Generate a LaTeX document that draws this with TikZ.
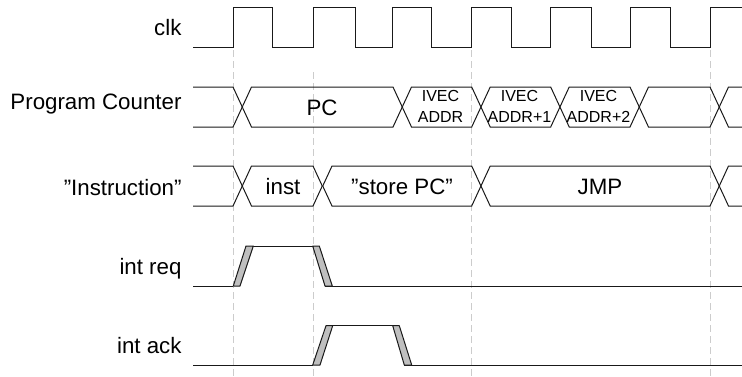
\documentclass[tikz,border=0pt]{standalone}
\usepackage{fontspec}
\setmainfont{Liberation Sans}
\begin{document}
\begin{tikzpicture}[x=1pt,y=-1pt,
  sig/.style={line width=1pt, draw=black!90, line join=miter},
  gridline/.style={draw=gray!40, line width=0.8pt, dash pattern=on 7pt off 4pt},
  lbl/.style={anchor=base east, inner sep=0pt, font=\fontsize{22.3}{26}\selectfont},
  bustxt/.style={anchor=base, inner sep=0pt, font=\fontsize{22.3}{26}\selectfont},
  small/.style={anchor=base, inner sep=0pt, font=\fontsize{16}{20}\selectfont},
  edgefill/.style={fill=gray!50, draw=black!90, line width=1pt, line join=round}]
\useasboundingbox (0,0) rectangle (742,376);

% dashed guide lines
\draw[gridline] (233,50) -- (233,376);
\draw[gridline] (313,72) -- (313,376);
\draw[gridline] (471.7,50) -- (471.7,376);
\draw[gridline] (710,50) -- (710,376);

% labels
\node[lbl] (lclk) at (181.7,35) {clk};
\node[lbl] (lpc) at (181.7,109) {Program Counter};
\node[lbl] (linst) at (181.7,195) {”Instruction”};
\node[lbl] (lreq) at (181.7,274) {int req};
\node[lbl] (lack) at (181.7,353) {int ack};

% clock
\draw[sig] (193,47) -- (233,47) -- (233,7.5) -- (272.7,7.5) -- (272.7,47)
  -- (313,47) -- (313,7.5) -- (355,7.5) -- (355,47)
  -- (392.3,47) -- (392.3,7.5) -- (431.7,7.5) -- (431.7,47)
  -- (471.7,47) -- (471.7,7.5) -- (511,7.5) -- (511,47)
  -- (550.7,47) -- (550.7,7.5) -- (591,7.5) -- (591,47)
  -- (630,47) -- (630,7.5) -- (670.7,7.5) -- (670.7,47)
  -- (710,47) -- (710,7.5) -- (742,7.5);

% Program Counter bus (top 87, bottom 127)
\draw[sig] (193,87) -- (233,87) -- (242.25,107) -- (233,127) -- (193,127);
\foreach \a/\b in {251.5/393, 411.5/471.7, 490.2/550.7, 569.2/630, 648.5/710}{
  \draw[sig] (\a-9.25,107) -- (\a,87) -- (\b,87) -- (\b+9.25,107) -- (\b,127) -- (\a,127) -- cycle;
}
\draw[sig] (742,87) -- (728.5,87) -- (719.25,107) -- (728.5,127) -- (742,127);

\node[bustxt] (tpc) at (322,115) {PC};
\node[small] (tiv1a) at (440.5,101.7) {IVEC};
\node[small] (tiv1b) at (440.5,122.3) {ADDR};
\node[small] (tiv2a) at (519.5,101.7) {IVEC};
\node[small] (tiv2b) at (519.5,122.3) {ADDR+1};
\node[small] (tiv3a) at (598.5,101.7) {IVEC};
\node[small] (tiv3b) at (598.5,122.3) {ADDR+2};

% Instruction bus (top 166, bottom 206)
\draw[sig] (193,166) -- (233,166) -- (242.25,186) -- (233,206) -- (193,206);
\foreach \a/\b in {251.5/313, 332/471.7, 490.2/710}{
  \draw[sig] (\a-9.25,186) -- (\a,166) -- (\b,166) -- (\b+9.25,186) -- (\b,206) -- (\a,206) -- cycle;
}
\draw[sig] (742,166) -- (728.5,166) -- (719.25,186) -- (728.5,206) -- (742,206);

\node[bustxt] (tinst) at (283,194) {inst};
\node[bustxt] (tstore) at (402,194) {”store PC”};
\node[bustxt] (tjmp) at (600,194) {JMP};

% int req (low 286, high 246)
\draw[sig] (193,286) -- (233.3,286);
\draw[sig] (246,246) -- (319.3,246);
\draw[sig] (325,286) -- (742,286);
\draw[edgefill] (233.3,286) -- (240,286) -- (253.3,246) -- (246,246) -- cycle;
\draw[edgefill] (312.7,246) -- (319.3,246) -- (332.3,286) -- (325,286) -- cycle;

% int ack (low 365, high 325.7)
\draw[sig] (193,365) -- (312.7,365);
\draw[sig] (326,325.7) -- (399.3,325.7);
\draw[sig] (404.3,365) -- (742,365);
\draw[edgefill] (312.7,365) -- (320,365) -- (332.7,325.7) -- (326,325.7) -- cycle;
\draw[edgefill] (392.7,325.7) -- (399.3,325.7) -- (411.7,365) -- (404.3,365) -- cycle;
\end{tikzpicture}
\end{document}
